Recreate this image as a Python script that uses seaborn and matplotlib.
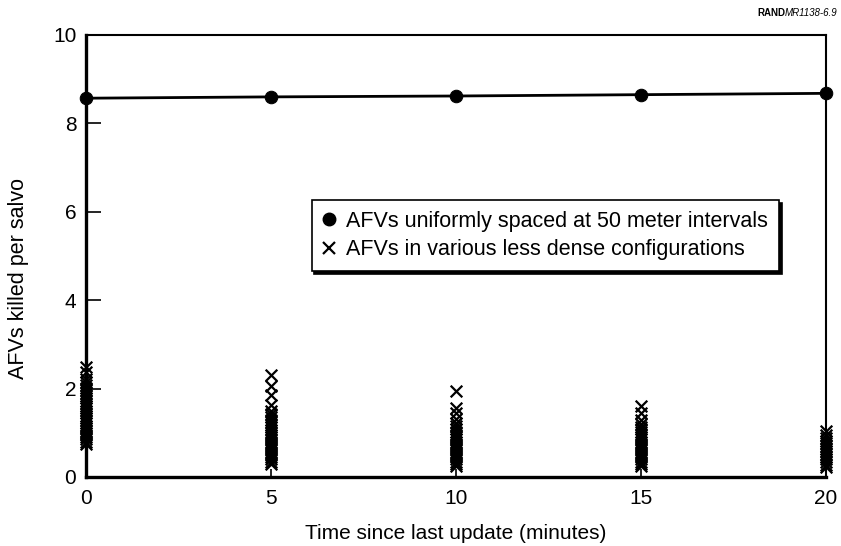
import matplotlib
matplotlib.use("Agg")
import matplotlib.pyplot as plt
from matplotlib.lines import Line2D
import seaborn as sns
import pandas as pd

# --- data ---
minutes = [0, 5, 10, 15, 20]
uniform_kills = [8.57, 8.60, 8.62, 8.65, 8.68]

scatter_0 = [2.50, 2.38, 2.22, 2.15, 2.08, 2.02, 1.96, 1.90, 1.84, 1.78, 1.72, 1.66, 1.60,
             1.55, 1.50, 1.44, 1.38, 1.33, 1.28, 1.22, 1.16, 1.10, 1.05, 1.00, 0.95, 0.90,
             0.85, 0.80, 0.75]
scatter_5 = [2.30, 2.05, 1.85, 1.62, 1.50, 1.42, 1.36, 1.30, 1.24, 1.18, 1.12, 1.06, 1.00,
             0.95, 0.90, 0.85, 0.80, 0.75, 0.70, 0.65, 0.60, 0.55, 0.50, 0.45, 0.40, 0.35,
             0.30]
scatter_10 = [1.95, 1.55, 1.45, 1.32, 1.22, 1.15, 1.08, 1.02, 0.96, 0.90, 0.85, 0.80, 0.75,
              0.70, 0.65, 0.60, 0.55, 0.50, 0.45, 0.40, 0.35, 0.30, 0.25]
scatter_15 = [1.60, 1.45, 1.28, 1.20, 1.14, 1.08, 1.02, 0.96, 0.90, 0.85, 0.80, 0.75, 0.70,
              0.65, 0.60, 0.55, 0.50, 0.45, 0.40, 0.35, 0.30, 0.25]
scatter_20 = [1.05, 0.95, 0.88, 0.82, 0.76, 0.70, 0.64, 0.58, 0.52, 0.46, 0.40, 0.34, 0.28,
              0.22]

legend_labels = ["AFVs uniformly spaced at 50 meter intervals",
                 "AFVs in various less dense configurations"]
x_label = "Time since last update (minutes)"
y_label = "AFVs killed per salvo"
x_ticks = [0, 5, 10, 15, 20]
y_ticks = [0, 2, 4, 6, 8, 10]
source_bold = "RAND"
source_italic = "MR1138-6.9"

df_line = pd.DataFrame({"minutes": minutes, "kills": uniform_kills})
scatter_sets = [scatter_0, scatter_5, scatter_10, scatter_15, scatter_20]
df_scatter = pd.DataFrame({
    "minutes": [m for m, s in zip(minutes, scatter_sets) for _ in s],
    "kills": [v for s in scatter_sets for v in s],
})

# --- style ---
sns.set_theme(style="white")
plt.rcParams["font.family"] = ["Liberation Sans", "DejaVu Sans"]
plt.rcParams["text.color"] = "black"
plt.rcParams["axes.labelcolor"] = "black"

fig = plt.figure(figsize=(8.41, 5.46), dpi=100)
ax = fig.add_axes([86 / 841, 69 / 546, 740 / 841, 442 / 546])

sns.lineplot(data=df_line, x="minutes", y="kills", ax=ax, color="black",
             linewidth=2, marker="o", markersize=9, markeredgecolor="black",
             clip_on=False, zorder=5)
sns.scatterplot(data=df_scatter, x="minutes", y="kills", ax=ax, marker="x",
                color="black", s=70, linewidth=1.6, clip_on=False, zorder=4)

ax.set_xlim(0, 20)
ax.set_ylim(0, 10)
ax.set_xticks(x_ticks)
ax.set_yticks(y_ticks)
ax.tick_params(axis="both", direction="in", labelsize=15, colors="black",
               width=1.2, bottom=True, left=True, top=False, right=False)
ax.tick_params(axis="y", length=11, pad=7)
ax.tick_params(axis="x", length=6, pad=9)
ax.set_xlabel(x_label, fontsize=15, labelpad=11)
ax.set_ylabel(y_label, fontsize=15.5)
ax.yaxis.set_label_coords(-0.077, 0.45)

for side in ["left", "bottom"]:
    ax.spines[side].set_linewidth(2.4)
for side in ["top", "right"]:
    ax.spines[side].set_linewidth(1.5)
for sp in ax.spines.values():
    sp.set_color("black")
    sp.set_visible(True)

handles = [
    Line2D([], [], marker="o", color="black", linestyle="none", markersize=9),
    Line2D([], [], marker="x", color="black", linestyle="none", markersize=8,
           markeredgewidth=1.6),
]
leg = ax.legend(handles, legend_labels, loc="upper left",
                bbox_to_anchor=(0.305, 0.627), frameon=True, fancybox=False,
                shadow={"color": "black", "alpha": 1}, edgecolor="black",
                fontsize=15.5, handlelength=0.6, handletextpad=0.5,
                borderpad=0.5, labelspacing=0.35, borderaxespad=0)
leg.get_frame().set_linewidth(1.2)

t_it = fig.text(0.996, 0.977, source_italic, fontsize=7, fontstyle="italic",
                ha="right", va="center", color="black")
fig.canvas.draw()
bb = t_it.get_window_extent(renderer=fig.canvas.get_renderer())
x_left = bb.x0 / fig.bbox.width
fig.text(x_left, 0.977, source_bold, fontsize=7, fontweight="bold",
         ha="right", va="center", color="black")

fig.savefig("out.png", dpi=100)
